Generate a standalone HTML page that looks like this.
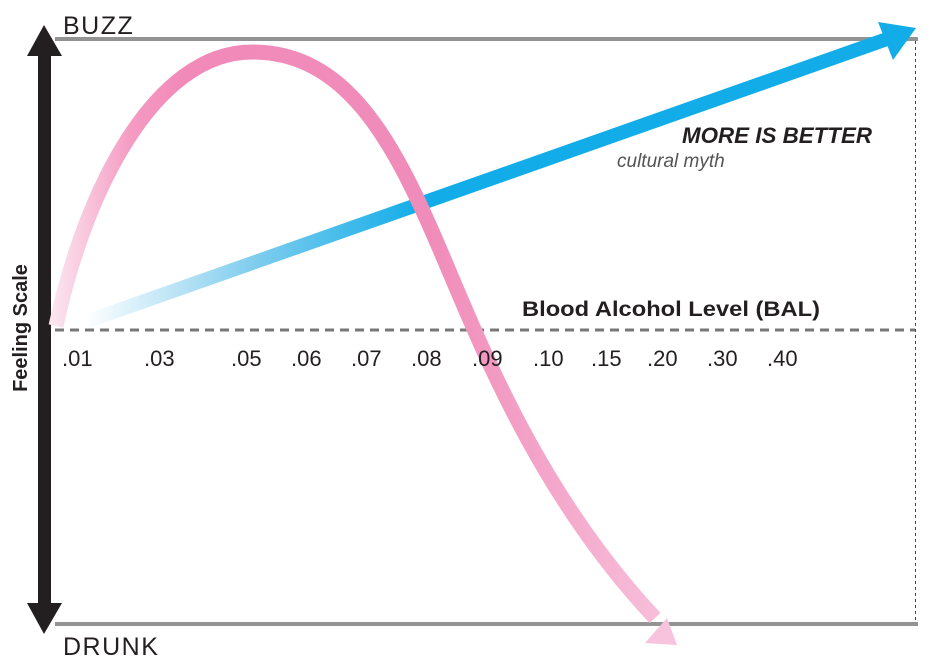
<!DOCTYPE html>
<html><head><meta charset="utf-8"><style>
html,body{margin:0;padding:0;background:#fff;}
svg{display:block;}
text{font-family:"Liberation Sans",sans-serif;}
</style></head><body>
<svg width="948" height="666" viewBox="0 0 948 666">
<defs>
<linearGradient id="pk" gradientUnits="userSpaceOnUse" x1="55" y1="0" x2="680" y2="0">
<stop offset="0" stop-color="#fbe4ee"/>
<stop offset="0.12" stop-color="#f59cc3"/>
<stop offset="0.2" stop-color="#f28ab9"/>
<stop offset="0.6" stop-color="#f08cb9"/>
<stop offset="1" stop-color="#f8c3dc"/>
</linearGradient>
<linearGradient id="bl" gradientUnits="userSpaceOnUse" x1="85" y1="0" x2="420" y2="0">
<stop offset="0" stop-color="#ffffff"/>
<stop offset="0.5" stop-color="#80cdee"/>
<stop offset="1" stop-color="#12ade8"/>
</linearGradient>
</defs>
<rect x="55" y="37" width="863" height="4" fill="#939393"/>
<rect x="55" y="622" width="863" height="4" fill="#939393"/>
<line x1="915.5" y1="41" x2="915.5" y2="622" stroke="#444" stroke-width="1" stroke-dasharray="3,3"/>
<line x1="55" y1="330" x2="915" y2="330" stroke="#777" stroke-width="3" stroke-dasharray="9,6"/>
<rect x="38" y="52" width="13" height="555" fill="#231f20"/>
<polygon points="44,25 27,56 62,56" fill="#231f20"/>
<polygon points="44,634 27,603 62,603" fill="#231f20"/>
<line x1="85" y1="322" x2="890" y2="38" stroke="url(#bl)" stroke-width="14"/>
<polygon points="916,28 878,22 893,60" fill="#12ade8"/>
<path d="M56,326 C85,190 155,52 252,52 C345,52 392,138 438,245 C478,338 535,490 655,618" fill="none" stroke="url(#pk)" stroke-width="15"/>
<polygon points="677,645 645,643 667,618" fill="#f8c3dc"/>
<text x="63" y="34" font-size="25" fill="#231f20" letter-spacing="1.5">BUZZ</text>
<text x="63" y="655" font-size="25" fill="#231f20" letter-spacing="1.5">DRUNK</text>
<text transform="translate(27,328) rotate(-90)" text-anchor="middle" font-size="20" font-weight="bold" fill="#231f20">Feeling Scale</text>
<text x="522" y="316" font-size="21" font-weight="bold" fill="#231f20" textLength="298" lengthAdjust="spacingAndGlyphs">Blood Alcohol Level (BAL)</text>
<text x="682" y="143" font-size="22" font-weight="bold" font-style="italic" fill="#231f20" textLength="190" lengthAdjust="spacingAndGlyphs">MORE IS BETTER</text>
<text x="617" y="167" font-size="19" font-style="italic" fill="#555">cultural myth</text>
<g font-size="22" fill="#231f20">
<text x="62" y="366">.01</text><text x="144" y="366">.03</text><text x="231" y="366">.05</text>
<text x="291" y="366">.06</text><text x="351" y="366">.07</text><text x="411" y="366">.08</text>
<text x="472" y="366">.09</text><text x="533" y="366">.10</text><text x="591" y="366">.15</text>
<text x="647" y="366">.20</text><text x="707" y="366">.30</text><text x="767" y="366">.40</text>
</g>
</svg>
</body></html>
